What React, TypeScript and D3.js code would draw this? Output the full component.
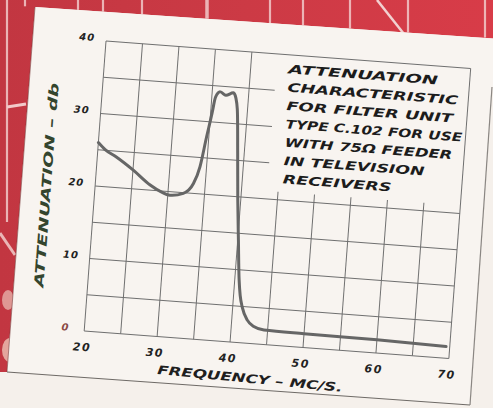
import React from 'react';
import * as d3 from 'd3';

// ---- data ----
const freqMcs = [20, 21, 22.6, 25, 27.5, 29, 30.3, 32.1, 33.4, 34.1, 34.7, 35.2, 35.5, 36.1, 36.9, 37.9, 38.3, 38.6, 39.1, 39.6, 40.1, 40.6, 40.9, 41.3, 42.1, 43, 44.5, 50, 60, 69.5];
const attenDb = [26.0, 25.1, 24.2, 22.6, 20.7, 19.9, 19.5, 19.9, 21.4, 23.7, 27.9, 31.2, 33.4, 34.2, 33.8, 34.2, 33.5, 32, 26, 19.5, 14, 8.6, 6.5, 4.9, 3.2, 2.4, 2.0, 1.9, 1.8, 1.6];
const xTickValues = [20, 30, 40, 50, 60, 70];
const yTickValues = [0, 10, 20, 30, 40];
const xGridValues = [20, 25, 30, 35, 40, 45, 50, 55, 60, 65, 70];
const yGridValues = [0, 5, 10, 15, 20, 25, 30, 35, 40];
const noteLines = ['ATTENUATION', 'CHARACTERISTIC', 'FOR FILTER UNIT', 'TYPE C.102 FOR USE', 'WITH 75\u03A9 FEEDER', 'IN TELEVISION', 'RECEIVERS'];
const xTitle = 'FREQUENCY \u2013 MC/S.';
const yTitle = 'ATTENUATION \u2013 db';

// ---- layout ----
const W = 365.7;
const H = 290.8;
const ANGLE = 4.3;
const noteWidths = [150, 171, 167, 177, 168, 141, 109];
const stripeXs = [7, 25, 78, 103, 142, 207, 270, 303, 350, 408, 485];
const FONT = "'DejaVu Sans', sans-serif";

export default function App() {
  const x = d3.scaleLinear().domain([20, 70]).range([0, W]);
  const y = d3.scaleLinear().domain([0, 40]).range([H, 0]);
  const pts: [number, number][] = freqMcs.map((f, i) => [f, attenDb[i]]);
  const line = d3
    .line<[number, number]>()
    .x((d) => x(d[0]))
    .y((d) => y(d[1]))
    .curve(d3.curveMonotoneX);
  const path = line(pts) || '';

  const topEdgeY = (px: number) => 7 + (px - 35) * 0.068;

  return (
    <svg
      width={493}
      height={408}
      style={{ position: 'absolute', left: 0, top: 0 }}
      xmlns="http://www.w3.org/2000/svg"
    >
      <defs>
        <linearGradient id="redbg" x1="0" y1="0" x2="1" y2="0">
          <stop offset="0" stopColor="#c23641" />
          <stop offset="0.5" stopColor="#cc3a45" />
          <stop offset="1" stopColor="#d83c48" />
        </linearGradient>
      </defs>
      {/* page beneath */}
      <rect x={0} y={0} width={493} height={408} fill="#f5f0eb" />
      {/* red backdrop top and left */}
      <polygon points="0,0 493,0 493,38.5 35,7 7,372 0,372" fill="url(#redbg)" />
      {/* light stripes on the backdrop */}
      {stripeXs.map((sx, i) => (
        <line
          key={i}
          x1={sx}
          y1={0}
          x2={sx}
          y2={i === 0 ? 222 : topEdgeY(sx)}
          stroke="#f2c9c9"
          strokeWidth={i === 5 ? 3.5 : 2.2}
          opacity={0.85}
        />
      ))}
      <line x1={377} y1={0} x2={404} y2={34} stroke="#f2d0d0" strokeWidth={2.5} />
      <line x1={7} y1={107} x2={26} y2={104} stroke="#f2c9c9" strokeWidth={3} />
      <line x1={0} y1={233} x2={15} y2={255} stroke="#eab6b6" strokeWidth={3} />
      <ellipse cx={8} cy={300} rx={6} ry={10} fill="#e6b0a8" opacity={0.8} />
      <ellipse cx={10} cy={350} rx={8} ry={12} fill="#ecc2b4" opacity={0.8} />
      {/* paper */}
      <polygon points="35,7 493,38.5 493,87 492,87 470,405 7,372" fill="#f8f4f0" />
      <line x1={35} y1={7} x2={7} y2={372} stroke="#7a3a3a" strokeWidth={1} opacity={0.6} />
      <line x1={7} y1={372} x2={470} y2={405} stroke="#6e6a66" strokeWidth={1.2} />
      <line x1={492} y1={87} x2={470} y2={405} stroke="#8a8682" strokeWidth={1.2} />

      <g transform={`translate(106,41) rotate(${ANGLE})`}>
        {/* horizontal grid */}
        {yGridValues.map((v) => {
          const partial = v > 20 && v < 40;
          return (
            <line
              key={'h' + v}
              x1={0}
              x2={partial ? x(43.5) : W}
              y1={y(v)}
              y2={y(v)}
              stroke="#6f6f6f"
              strokeWidth={1}
            />
          );
        })}
        {/* vertical grid */}
        {xGridValues.map((v) => {
          const partial = v > 40 && v < 70;
          return (
            <line
              key={'v' + v}
              x1={x(v)}
              x2={x(v)}
              y1={H}
              y2={partial ? y(21.1) : 0}
              stroke="#6f6f6f"
              strokeWidth={1}
            />
          );
        })}
        {/* curve */}
        <path d={path} fill="none" stroke="#666" strokeWidth={3} strokeLinejoin="round" strokeLinecap="round" />

        {/* y tick labels */}
        {yTickValues.map((v) => (
          <text
            key={'yt' + v}
            x={-19}
            y={y(v) + 1}
            textAnchor="middle"
            fontFamily={FONT}
            fontWeight="bold"
            fontStyle="italic"
            fontSize={10}
            letterSpacing={1}
            fill={v === 0 ? '#8a4a45' : '#222'}
          >
            {v}
          </text>
        ))}
        {/* x tick labels */}
        {xTickValues.map((v) => (
          <text
            key={'xt' + v}
            x={x(v) - 1}
            y={H + 20}
            textAnchor="middle"
            fontFamily={FONT}
            fontWeight="bold"
            fontStyle="italic"
            fontSize={11}
            letterSpacing={1.5}
            fill="#222"
          >
            {v}
          </text>
        ))}
        {/* axis titles */}
        <text
          transform={`translate(75.8,328.2) rotate(1.2)`}
          textLength={186}
          lengthAdjust="spacingAndGlyphs"
          fontFamily={FONT}
          fontWeight="bold"
          fontStyle="italic"
          fontSize={12}
          fill="#1f1f1f"
        >
          {xTitle}
        </text>
        <text
          transform={`translate(-44,148) rotate(-90)`}
          textAnchor="middle"
          textLength={205}
          lengthAdjust="spacingAndGlyphs"
          fontFamily={FONT}
          fontWeight="bold"
          fontStyle="italic"
          fontSize={13}
          fill="#34452e"
        >
          {yTitle}
        </text>
        {/* note */}
        {noteLines.map((t, i) => (
          <text
            key={'n' + i}
            x={184 + i * 0.45}
            y={18.5 + i * 18.35}
            textLength={noteWidths[i]}
            lengthAdjust="spacingAndGlyphs"
            fontFamily={FONT}
            fontWeight="bold"
            fontStyle="italic"
            fontSize={12}
            fill="#1c1c1c"
          >
            {t}
          </text>
        ))}
      </g>
    </svg>
  );
}
